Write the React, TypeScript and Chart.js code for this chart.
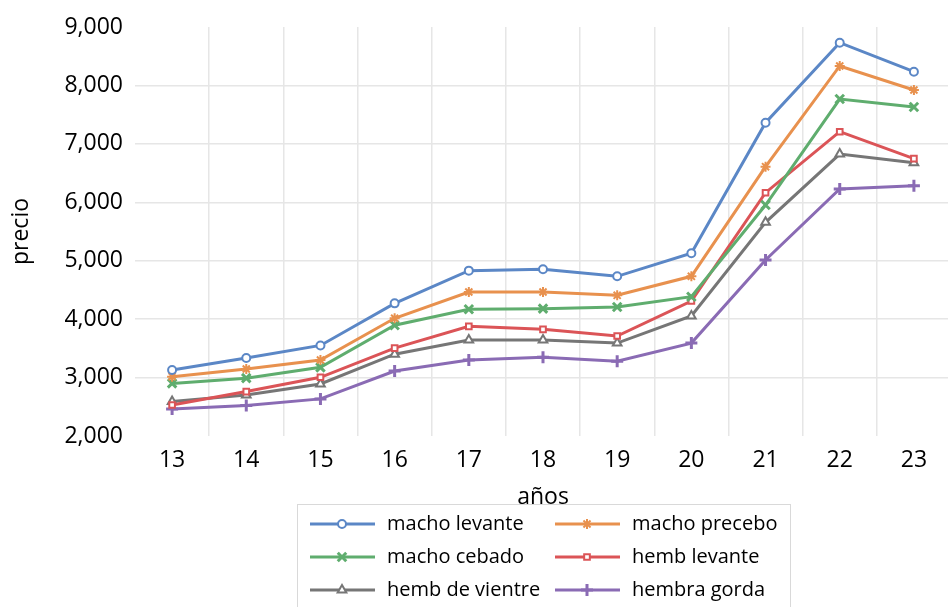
import React, { useEffect, useRef } from 'react';
import { Chart, registerables } from 'chart.js';
import { drawPoint } from 'chart.js/helpers';

Chart.register(...registerables);

const years = ['13', '14', '15', '16', '17', '18', '19', '20', '21', '22', '23'];
const yTicks = [2000, 3000, 4000, 5000, 6000, 7000, 8000, 9000];

const machoLevante = [3130, 3335, 3550, 4270, 4830, 4853, 4733, 5127, 7362, 8731, 8235];
const machoPrecebo = [3015, 3147, 3300, 4015, 4465, 4465, 4408, 4733, 6609, 8333, 7922];
const machoCebado = [2900, 2990, 3175, 3895, 4170, 4180, 4208, 4384, 5953, 7767, 7631];
const hembLevante = [2530, 2760, 3005, 3505, 3877, 3826, 3711, 4310, 6164, 7208, 6746];
const hembVientre = [2590, 2700, 2890, 3400, 3643, 3643, 3590, 4054, 5657, 6826, 6678];
const hembraGorda = [2460, 2520, 2635, 3112, 3300, 3347, 3280, 3590, 5012, 6227, 6284];

const seriesLabels = ['macho levante', 'macho precebo', 'macho cebado', 'hemb levante', 'hemb de vientre', 'hembra gorda'];
const seriesData = [machoLevante, machoPrecebo, machoCebado, hembLevante, hembVientre, hembraGorda];
const seriesColors = ['#5B87C6', '#E8914E', '#5FAD6E', '#DB5457', '#767676', '#8A6BB4'];
const seriesStyles = ['circle', 'star', 'crossRot', 'rect', 'triangle', 'cross'];
const seriesRadius = [4, 5, 6, 4, 5, 6];
const seriesBorder = [2, 2, 3, 2, 2, 3];
const seriesFill = ['#ffffff', null, null, '#ffffff', '#ffffff', null];

const FONT = '"Open Sans", "Noto Sans", sans-serif';

const legendPlugin = {
  id: 'boxLegend',
  afterDraw(chart: any) {
    const ctx = chart.ctx;
    ctx.save();
    const bx = 297, by = 504, bw = 493, bh = 110;
    ctx.fillStyle = '#ffffff';
    ctx.fillRect(bx, by, bw, bh);
    ctx.strokeStyle = '#d9d9d9';
    ctx.lineWidth = 1;
    ctx.strokeRect(bx + 0.5, by + 0.5, bw, bh);
    const cols = [310, 555];
    const rows = [524, 557, 590];
    chart.data.datasets.forEach((ds: any, i: number) => {
      const x0 = cols[i % 2];
      const y = rows[Math.floor(i / 2)];
      ctx.strokeStyle = ds.borderColor;
      ctx.lineWidth = 3;
      ctx.beginPath();
      ctx.moveTo(x0, y);
      ctx.lineTo(x0 + 65, y);
      ctx.stroke();
      ctx.fillStyle = ds.pointBackgroundColor;
      ctx.strokeStyle = ds.pointBorderColor;
      ctx.lineWidth = ds.pointBorderWidth;
      drawPoint(ctx, { pointStyle: ds.pointStyle, rotation: 0, radius: ds.pointRadius, borderWidth: ds.pointBorderWidth }, x0 + 32, y);
      ctx.fillStyle = '#000000';
      ctx.font = `20px ${FONT}`;
      ctx.textBaseline = 'middle';
      ctx.textAlign = 'left';
      ctx.fillText(ds.label, x0 + 77, y);
    });
    ctx.restore();
  },
};

export default function App() {
  const ref = useRef<HTMLCanvasElement | null>(null);
  useEffect(() => {
    document.body.style.overflow = 'hidden';
    const canvas = ref.current;
    if (!canvas) return;
    const chart = new Chart(canvas, {
      type: 'line',
      data: {
        labels: years,
        datasets: seriesData.map((d, i) => ({
          label: seriesLabels[i],
          data: d,
          borderColor: seriesColors[i],
          backgroundColor: seriesColors[i],
          borderWidth: 3,
          pointStyle: seriesStyles[i] as any,
          pointRadius: seriesRadius[i],
          pointBorderWidth: seriesBorder[i],
          pointBorderColor: seriesColors[i],
          pointBackgroundColor: seriesFill[i] || seriesColors[i],
          tension: 0,
        })),
      },
      options: {
        animation: false,
        responsive: true,
        maintainAspectRatio: false,
        layout: { padding: { top: 27, bottom: 96, left: 0, right: 7 } },
        plugins: { legend: { display: false }, tooltip: { enabled: false } },
        scales: {
          x: {
            offset: true,
            grid: {
              offset: true,
              drawTicks: false,
              lineWidth: 1.5,
              color: (c: any) => (c.type !== 'tick' || c.index === 0 ? 'rgba(0,0,0,0)' : '#e6e6e6'),
            },
            border: { display: false },
            ticks: { color: '#000', font: { family: FONT, size: 23 }, padding: 11 },
            title: { display: true, text: 'años', color: '#000', font: { family: FONT, size: 23 }, padding: { top: 0, bottom: 0 } },
            afterFit: (s: any) => { s.height = 75; },
          },
          y: {
            min: 2000,
            max: 9000,
            afterBuildTicks: (s: any) => { s.ticks = yTicks.map((v) => ({ value: v })); },
            grid: {
              drawTicks: false,
              lineWidth: 1.5,
              color: (c: any) => (c.tick && (c.tick.value === 2000 || c.tick.value === 9000) ? 'rgba(0,0,0,0)' : '#e6e6e6'),
            },
            border: { display: false },
            ticks: {
              color: '#000',
              font: { family: FONT, size: 23 },
              padding: 12,
              callback: (v: any) => Number(v).toLocaleString('en-US'),
            },
            title: { display: true, text: 'precio', color: '#000', font: { family: FONT, size: 23 }, padding: { top: 8, bottom: 0 } },
            afterFit: (s: any) => { s.width = 135; },
          },
        },
      },
      plugins: [legendPlugin],
    });
    return () => chart.destroy();
  }, []);
  return (
    <div style={{ position: 'fixed', left: 0, top: 0, width: 960, height: 607 }}>
      <canvas ref={ref} />
    </div>
  );
}
